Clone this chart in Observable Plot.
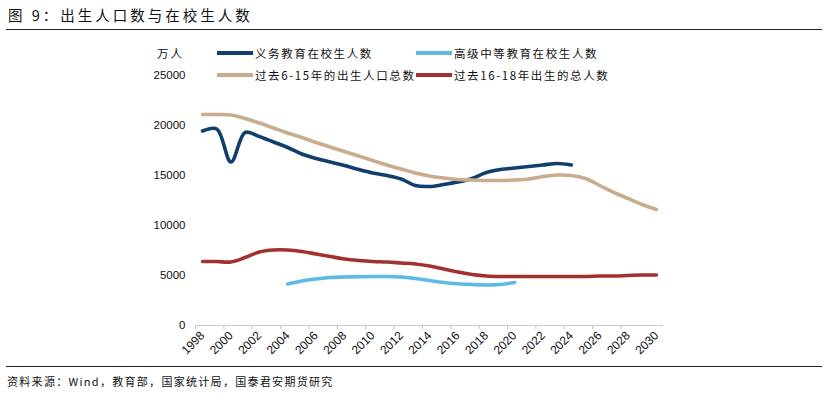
<!DOCTYPE html>
<html><head><meta charset="utf-8">
<script src="https://cdn.jsdelivr.net/npm/d3@7"></script>
<script src="https://cdn.jsdelivr.net/npm/@observablehq/plot@0.6"></script>
<style>
body{margin:0;background:#fff;width:828px;height:395px;position:relative;overflow:hidden;font-family:"Noto Sans CJK SC",sans-serif;color:#111;}
#title{position:absolute;left:8px;top:5px;font-size:14.5px;line-height:20px;letter-spacing:3px;}
.rule{position:absolute;left:6px;width:816px;height:0;border-top:1.5px solid #222;}
#chart{position:absolute;left:0;top:35px;}
.leg{position:absolute;font-size:11.5px;line-height:18px;letter-spacing:1.6px;display:flex;align-items:center;white-space:nowrap;}
.sw{display:inline-block;width:36px;height:3.5px;margin-right:2px;}
#unit{position:absolute;left:157px;top:44px;font-size:11.5px;line-height:18px;letter-spacing:2px;}
#src{position:absolute;left:7px;top:372px;font-size:11px;line-height:18px;letter-spacing:1.3px;}
</style></head>
<body>
<div id="title">图 9：出生人口数与在校生人数</div>
<div class="rule" style="top:29px"></div>
<div id="chart"></div>
<div id="unit">万人</div>
<div id="legend"></div>
<div class="rule" style="top:366px"></div>
<div id="src">资料来源：Wind，教育部，国家统计局，国泰君安期货研究</div>
<script>
const years = [1998,1999,2000,2001,2002,2003,2004,2005,2006,2007,2008,2009,2010,2011,2012,2013,2014,2015,2016,2017,2018,2019,2020,2021,2022,2023,2024,2025,2026,2027,2028,2029,2030];
const compulsory = [19450,19650,16350,19300,18900,18350,17800,17150,16700,16350,16000,15600,15250,15000,14650,14000,13900,14100,14350,14700,15300,15600,15750,15900,16050,16200,16050,null,null,null,null,null,null];
const highSchool = [null,null,null,null,null,null,4150,4450,4650,4800,4850,4880,4900,4900,4850,4700,4500,4300,4170,4100,4050,4100,4300,null,null,null,null,null,null,null,null,null,null];
const births6to15 = [21100,21100,21050,20700,20250,19750,19250,18800,18300,17850,17400,16950,16500,16050,15650,15250,14950,14750,14600,14550,14500,14500,14550,14650,14900,15050,15000,14700,14000,13300,12700,12100,11600];
const births16to18 = [6400,6400,6350,6800,7350,7550,7550,7400,7150,6900,6650,6500,6400,6350,6250,6150,5950,5650,5350,5100,4950,4900,4900,4900,4900,4900,4900,4900,4950,4950,5000,5050,5050];
const seriesNames = ["义务教育在校生人数","高级中等教育在校生人数","过去6-15年的出生人口总数","过去16-18年出生的总人数"];
const seriesColors = ["#0f3f6d","#5bbbe3","#c9ab8d","#a3312f"];
const yTicks = [0,5000,10000,15000,20000,25000];
const xLabels = [1998,2000,2002,2004,2006,2008,2010,2012,2014,2016,2018,2020,2022,2024,2026,2028,2030];

const seriesValues = [compulsory, highSchool, births6to15, births16to18];
const rows = [];
seriesValues.forEach((vals, s) => vals.forEach((v, i) => { if (v != null) rows.push({series: seriesNames[s], year: years[i], value: v}); }));
const boundaries = xLabels.slice(0, -1).map(y => y - 0.5);

const chart = Plot.plot({
  width: 828, height: 325,
  marginLeft: 195, marginRight: 165, marginTop: 40, marginBottom: 35,
  x: {domain: [years[0] - 0.5, years[years.length - 1] + 0.5]},
  y: {domain: [0, 25000]},
  style: {fontFamily: "'Liberation Sans', Arial, sans-serif", fontSize: "11.5px", color: "#111", background: "transparent"},
  marks: [
    Plot.axisY({ticks: yTicks, tickSize: 0, tickPadding: 10, tickFormat: d => String(d), label: null}),
    Plot.axisX({ticks: boundaries, tickSize: 4, tickFormat: () => "", label: null, stroke: "#bfbfbf"}),
    Plot.axisX({ticks: xLabels, tickSize: 0, tickPadding: 8, tickRotate: -45, tickFormat: d => String(d), label: null, fontSize: 12}),
    Plot.ruleY([0], {stroke: "#c8c8c8", strokeWidth: 1}),
    ...seriesNames.map((name, s) => Plot.line(rows.filter(r => r.series === name), {
      x: "year", y: "value", stroke: seriesColors[s], strokeWidth: 3.6, curve: "catmull-rom", strokeLinecap: "round"
    }))
  ]
});
document.getElementById("chart").append(chart);

const legendPos = [[217, 44], [416, 44], [217, 66], [416, 66]];
const leg = document.getElementById("legend");
seriesNames.forEach((name, s) => {
  const d = document.createElement("div");
  d.className = "leg";
  d.style.left = legendPos[s][0] + "px";
  d.style.top = legendPos[s][1] + "px";
  d.innerHTML = `<span class="sw" style="background:${seriesColors[s]}"></span><span>${name}</span>`;
  leg.append(d);
});
</script>
</body></html>
